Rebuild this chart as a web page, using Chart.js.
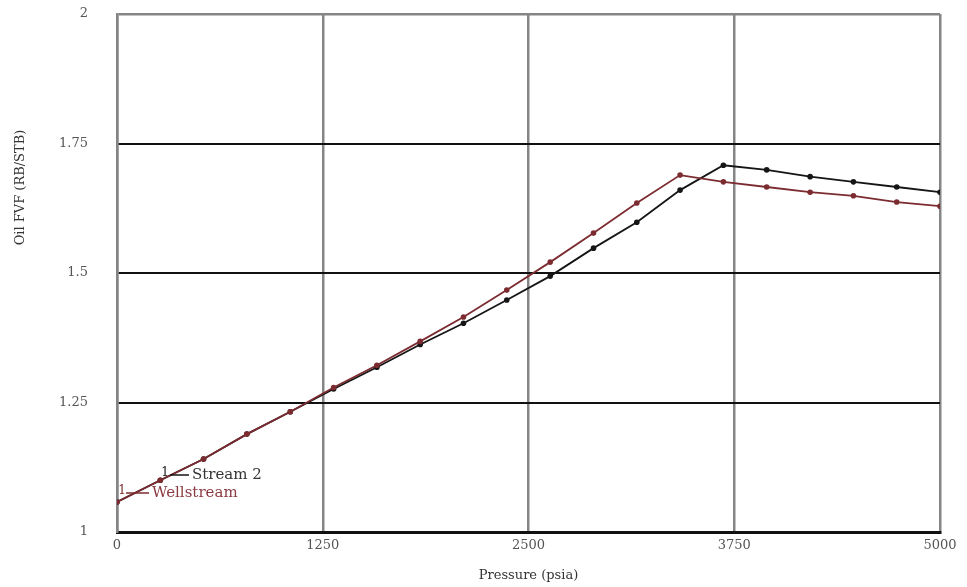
<!DOCTYPE html>
<html>
<head>
<meta charset="utf-8">
<title>Oil FVF vs Pressure</title>
<script src="https://cdn.jsdelivr.net/npm/chart.js@4/dist/chart.umd.min.js"></script>
<style>
  html, body { margin: 0; padding: 0; background: #ffffff; }
  #wrap { width: 967px; height: 587px; }
</style>
</head>
<body>
<div id="wrap"><canvas id="c" width="967" height="587"></canvas></div>
<script>
// Pressure steps (psia) shared by both series
const pressures = [0, 263, 526, 789, 1053, 1316, 1579, 1842, 2105, 2368,
                   2632, 2895, 3158, 3421, 3684, 3947, 4211, 4474, 4737, 5000];

// Oil formation volume factor (RB/STB)
const stream2 = [1.058, 1.100, 1.141, 1.189, 1.232, 1.276, 1.318, 1.362, 1.403, 1.448,
                 1.494, 1.548, 1.598, 1.660, 1.708, 1.699, 1.686, 1.676, 1.666, 1.656];
const wellstream = [1.058, 1.100, 1.141, 1.189, 1.232, 1.279, 1.322, 1.368, 1.415, 1.467,
                    1.521, 1.577, 1.635, 1.689, 1.676, 1.666, 1.656, 1.649, 1.637, 1.629];

const seriesNames = ['Stream 2', 'Wellstream'];
const xTickLabels = ['0', '1250', '2500', '3750', '5000'];
const yTickLabels = ['1', '1.25', '1.5', '1.75', '2'];
const xTitle = 'Pressure (psia)';
const yTitle = 'Oil FVF (RB/STB)';

const BLACK = '#151515';
const MAROON = '#7c2c31';
const GRID_GRAY = '#858585';
const FONT = 'DejaVu Serif';

const toPoints = (ys) => pressures.map((p, i) => ({ x: p, y: ys[i] }));

// Rotated y-axis title, drawn in the left margin
const yTitlePlugin = {
  id: 'yTitle',
  afterDraw(chart) {
    const { ctx, chartArea } = chart;
    ctx.save();
    ctx.translate(21, chartArea.top + (chartArea.bottom - chartArea.top) * 0.335);
    ctx.rotate(-Math.PI / 2);
    ctx.font = '13px "' + FONT + '"';
    ctx.fillStyle = '#333333';
    ctx.textAlign = 'center';
    ctx.textBaseline = 'middle';
    ctx.fillText(yTitle, 0, 0);
    ctx.restore();
  }
};

// Inline series key in the lower-left of the plot
const keyPlugin = {
  id: 'seriesKey',
  afterDatasetsDraw(chart) {
    const { ctx, chartArea } = chart;
    const L = chartArea.left, B = chartArea.bottom;
    const entries = [
      { name: seriesNames[0], color: BLACK, text: '#333333', mx: L + 48, y: B - 57, x0: L + 53, x1: L + 72, tx: L + 75 },
      { name: seriesNames[1], color: MAROON, text: '#8a3a40', mx: L + 5, y: B - 39, x0: L + 9, x1: L + 32, tx: L + 35 }
    ];
    ctx.save();
    entries.forEach(e => {
      ctx.font = '12px "' + FONT + '"';
      ctx.fillStyle = e.color;
      ctx.textAlign = 'center';
      ctx.textBaseline = 'middle';
      ctx.fillText('1', e.mx, e.y - 2);
      ctx.strokeStyle = e.color;
      ctx.lineWidth = 1.5;
      ctx.beginPath();
      ctx.moveTo(e.x0, e.y);
      ctx.lineTo(e.x1, e.y);
      ctx.stroke();
      ctx.font = '15px "' + FONT + '"';
      ctx.fillStyle = e.text;
      ctx.textAlign = 'left';
      ctx.fillText(e.name, e.tx, e.y);
    });
    ctx.restore();
  }
};

new Chart(document.getElementById('c'), {
  type: 'line',
  data: {
    datasets: [
      {
        label: seriesNames[1],
        data: toPoints(wellstream),
        borderColor: MAROON,
        backgroundColor: MAROON,
        borderWidth: 1.8,
        pointRadius: 2.8,
        pointHoverRadius: 2.8,
        pointBorderWidth: 0,
        tension: 0
      },
      {
        label: seriesNames[0],
        data: toPoints(stream2),
        borderColor: BLACK,
        backgroundColor: BLACK,
        borderWidth: 1.8,
        pointRadius: 2.8,
        pointHoverRadius: 2.8,
        pointBorderWidth: 0,
        tension: 0
      }
    ]
  },
  options: {
    responsive: false,
    animation: false,
    devicePixelRatio: 1,
    layout: { padding: { left: 0, top: 14, right: 27, bottom: 0 } },
    plugins: {
      legend: { display: false },
      tooltip: { enabled: false }
    },
    scales: {
      x: {
        type: 'linear',
        min: 0,
        max: 5000,
        afterFit: (s) => { s.height = 55; s.paddingLeft = 0; s.paddingRight = 0; },
        ticks: {
          stepSize: 1250,
          color: '#555555',
          font: { family: FONT, size: 13 },
          padding: 6,
          maxRotation: 0,
          callback: (v, i) => xTickLabels[i]
        },
        grid: { color: GRID_GRAY, lineWidth: 2.5, drawTicks: false },
        border: { color: '#111111', width: 3 },
        title: {
          display: true,
          text: xTitle,
          color: '#333333',
          font: { family: FONT, size: 13 },
          padding: { top: 0, bottom: 4 }
        }
      },
      y: {
        type: 'linear',
        min: 1,
        max: 2,
        afterFit: (s) => { s.width = 117; s.paddingTop = 0; s.paddingBottom = 0; },
        ticks: {
          stepSize: 0.25,
          color: '#555555',
          font: { family: FONT, size: 13 },
          padding: 29,
          callback: (v, i) => yTickLabels[i]
        },
        grid: {
          color: (ctx) => (ctx.tick && ctx.tick.value === 2 ? GRID_GRAY : '#111111'),
          lineWidth: (ctx) => (ctx.tick && ctx.tick.value === 2 ? 2.5 : 2),
          drawTicks: false
        },
        border: { color: GRID_GRAY, width: 2.5 }
      }
    }
  },
  plugins: [yTitlePlugin, keyPlugin]
});
</script>
</body>
</html>
